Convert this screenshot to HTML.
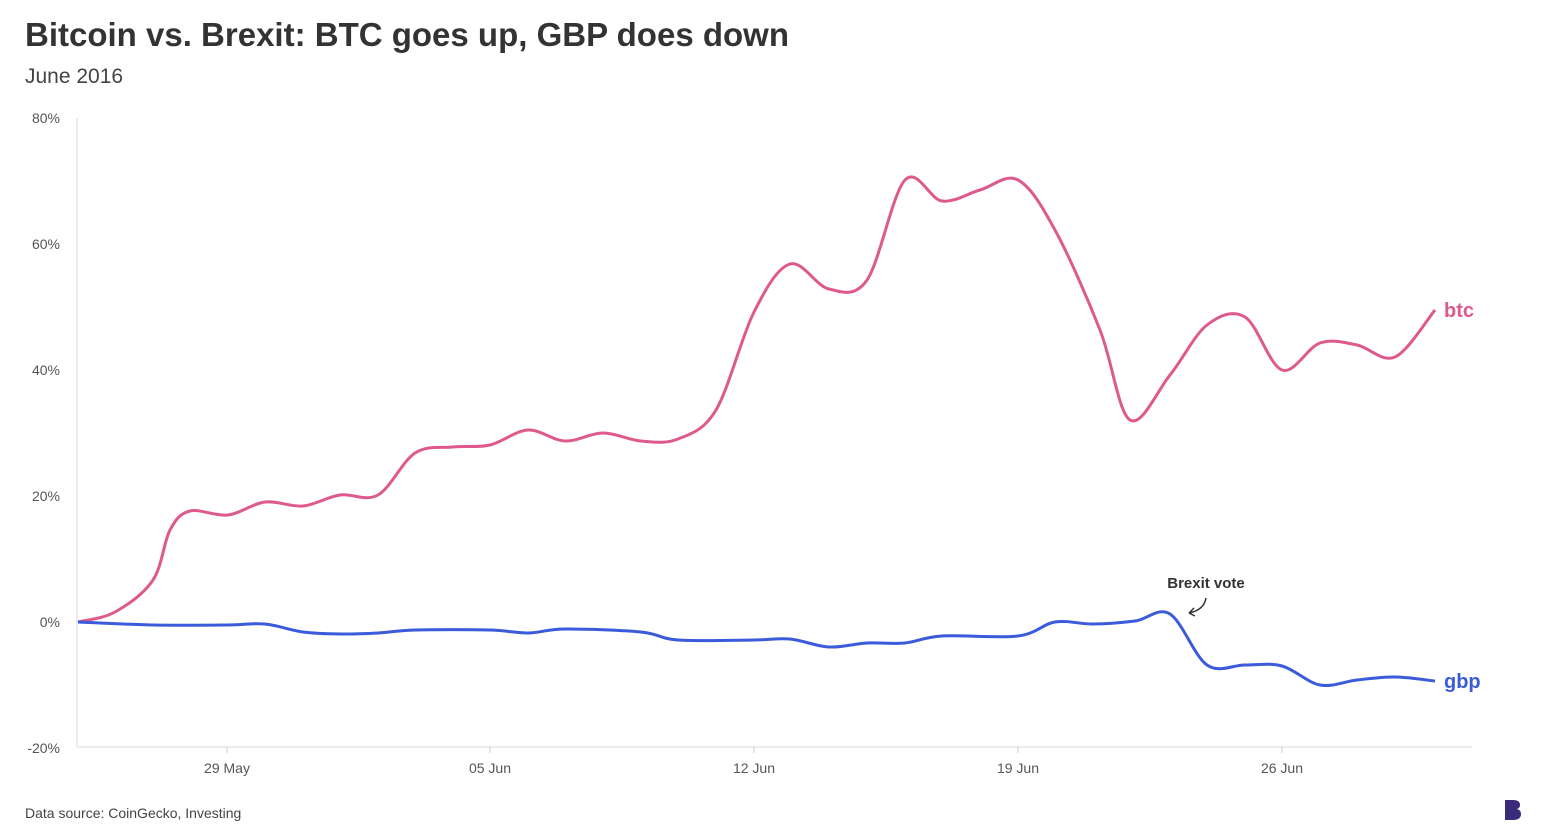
<!DOCTYPE html>
<html><head><meta charset="utf-8"><style>
body{margin:0;background:#fff;font-family:"Liberation Sans",sans-serif;}
svg{display:block}
</style></head><body>
<svg id="s" width="1546" height="836" xmlns="http://www.w3.org/2000/svg" font-family="Liberation Sans, sans-serif">
<text x="25" y="46" font-size="33" font-weight="bold" fill="#333">Bitcoin vs. Brexit: BTC goes up, GBP does down</text>
<text x="25" y="83" font-size="21" fill="#444">June 2016</text>
<g font-size="14" fill="#555" text-anchor="end">
<text x="60" y="123">80%</text><text x="60" y="249">60%</text><text x="60" y="375">40%</text>
<text x="60" y="501">20%</text><text x="60" y="627">0%</text><text x="60" y="753">-20%</text>
</g>
<line x1="77" y1="118" x2="77" y2="747" stroke="#e6e6e6" stroke-width="1.5"/>
<line x1="77" y1="747" x2="1472" y2="747" stroke="#e6e6e6" stroke-width="1.5"/>
<g stroke="#ccc"><line x1="227" y1="747" x2="227" y2="753"/><line x1="490" y1="747" x2="490" y2="753"/><line x1="754" y1="747" x2="754" y2="753"/><line x1="1018" y1="747" x2="1018" y2="753"/><line x1="1282" y1="747" x2="1282" y2="753"/></g>
<g font-size="14" fill="#555" text-anchor="middle">
<text x="227" y="773">29 May</text><text x="490" y="773">05 Jun</text><text x="754" y="773">12 Jun</text><text x="1018" y="773">19 Jun</text><text x="1282" y="773">26 Jun</text>
</g>
<path id="btc" fill="none" stroke="#de5a8c" stroke-width="3"/>
<path id="gbp" fill="none" stroke="#3b5bdb" stroke-width="3"/>
<text x="1444" y="317" font-size="20" font-weight="bold" fill="#de5a8c">btc</text>
<text x="1444" y="688" font-size="20" font-weight="bold" fill="#3b5bdb">gbp</text>
<text x="1206" y="588" font-size="15" font-weight="bold" fill="#333" text-anchor="middle">Brexit vote</text>
<path d="M1206 598 Q1204 610 1189 613 M1189 613 l5 -5 M1189 613 l6 3" fill="none" stroke="#333" stroke-width="1.5"/>
<text x="25" y="818" font-size="14" fill="#444">Data source: CoinGecko, Investing</text>
<path d="M1505 800 h8 q7 0 7 5 q0 3 -3 4 q4 1 4 5 q0 6 -8 6 h-8z" fill="#3a2a7a"/>
</svg>
<script>
function path(p){let d="M"+p[0][0]+" "+p[0][1];for(let i=0;i<p.length-1;i++){const a=p[i-1]||p[i],b=p[i],c=p[i+1],e=p[i+2]||c;
d+=` C${b[0]+(c[0]-a[0])/6} ${b[1]+(c[1]-a[1])/6} ${c[0]-(e[0]-b[0])/6} ${c[1]-(e[1]-b[1])/6} ${c[0]} ${c[1]}`;}return d;}
const btc=[[78,622],[115,612],[153,580],[170,530],[190,511],[228,515],[265,502],[303,506],[340,495],[378,495],[415,453],[453,447],[490,445],[528,430],[565,441],[603,433],[641,441],[678,439],[716,410],[754,312],[790,264],[829,289],[867,280],[905,180],[942,201],[980,190],[1018,180],[1055,230],[1100,330],[1130,420],[1170,375],[1207,325],[1245,317],[1282,370],[1320,343],[1357,345],[1395,357],[1435,310]];
const gbp=[[78,622],[153,625],[228,625],[265,624],[303,632],[340,634],[378,633],[415,630],[490,630],[528,633],[565,629],[641,632],[678,640],[754,640],[790,639],[829,647],[867,643],[905,643],[942,636],[1018,636],[1055,622],[1093,624],[1135,621],[1170,614],[1207,665],[1245,665],[1282,666],[1320,685],[1357,680],[1395,677],[1435,681]];
document.getElementById("btc").setAttribute("d",path(btc));
document.getElementById("gbp").setAttribute("d",path(gbp));
</script>
</body></html>
